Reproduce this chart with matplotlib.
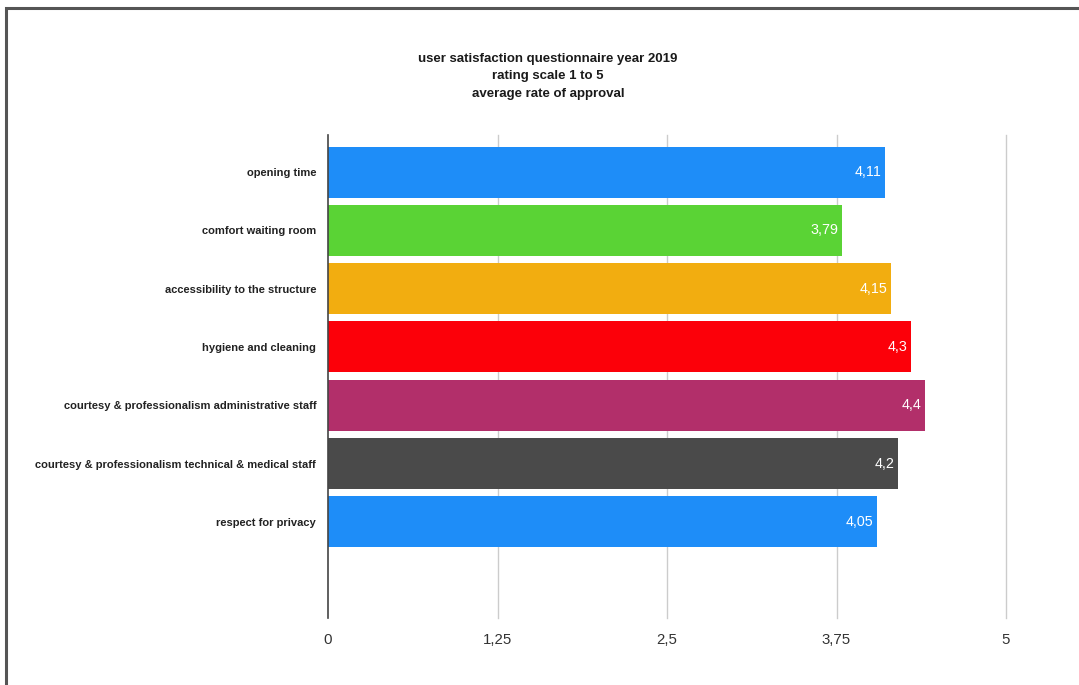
import matplotlib
matplotlib.use("Agg")
import matplotlib.pyplot as plt
from matplotlib.patches import Rectangle

plt.rcParams['font.family'] = ['Liberation Sans', 'DejaVu Sans']

categories = ["opening time", "comfort waiting room", "accessibility to the structure",
              "hygiene and cleaning", "courtesy & professionalism administrative staff",
              "courtesy & professionalism technical & medical staff", "respect for privacy"]
values = [4.11, 3.79, 4.15, 4.3, 4.4, 4.2, 4.05]
value_labels = ["4,11", "3,79", "4,15", "4,3", "4,4", "4,2", "4,05"]
colors = ["#1E8DF8", "#5AD335", "#F2AD10", "#FC0009", "#B22F6A", "#4A4A4A", "#1E8DF8"]
xticks = [0, 1.25, 2.5, 3.75, 5]
xtick_labels = ["0", "1,25", "2,5", "3,75", "5"]
title = "user satisfaction questionnaire year 2019\nrating scale 1 to 5\naverage rate of approval"

W, H = 1079, 685
fig = plt.figure(figsize=(W/100, H/100), dpi=100)
fig.patch.set_facecolor("white")

# outer frame
fig.add_artist(Rectangle((6/W, -0.1), 1.2, (H-8)/H + 0.1, transform=fig.transFigure,
                         fill=False, edgecolor="#555555", linewidth=2.2))

ax = fig.add_axes([328/W, (H-618)/H, (1006-328)/W, (618-135)/H])
ypos = list(range(len(categories)))
ax.barh(ypos, values, height=0.875, color=colors, zorder=3)
ax.set_ylim(7.65, -0.635)
ax.set_xlim(0, 5)

for y, v, lab in zip(ypos, values, value_labels):
    ax.annotate(lab, xy=(v, y), xytext=(-2.5, 0), textcoords="offset points",
                ha="right", va="center", color="white", fontsize=10.3, zorder=4)

ax.set_yticks(ypos)
ax.set_yticklabels(categories, fontsize=8.05, fontweight="bold", color="#222222")
ax.tick_params(axis="y", length=0, pad=8.5)
ax.set_xticks(xticks)
ax.set_xticklabels(xtick_labels, fontsize=10.8, color="#333333")
ax.tick_params(axis="x", length=0, pad=11)

for t in xticks[1:]:
    ax.axvline(t, color="#CCCCCC", linewidth=1, zorder=1, clip_on=False)
ax.axvline(0, color="#444444", linewidth=1.2, zorder=5, clip_on=False)
for s in ax.spines.values():
    s.set_visible(False)

fig.text(548/W, 1 - 76.5/H, title, ha="center", va="center", fontsize=9.5,
         fontweight="bold", color="#1a1a1a", linespacing=1.62)

fig.savefig("out.png", dpi=100)
